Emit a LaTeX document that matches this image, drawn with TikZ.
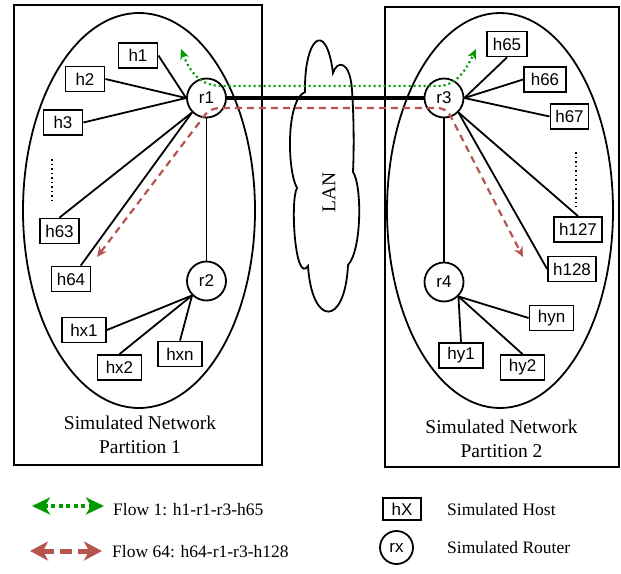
\documentclass[tikz,border=0pt]{standalone}
\usepackage{fontspec}
\setmainfont{Liberation Serif}
\setsansfont{Liberation Sans}
\usetikzlibrary{arrows.meta}
\definecolor{flowgreen}{RGB}{0,153,0}
\definecolor{flowred}{RGB}{184,84,80}
\tikzset{
  hostbox/.style={draw, line width=1.8pt, fill=white, minimum width=39pt, minimum height=25pt, inner sep=0pt, font=\sffamily\fontsize{17}{20}\selectfont},
  hostwide/.style={hostbox, minimum width=44pt},
  hostwider/.style={hostbox, minimum width=48pt},
  routernode/.style={draw, circle, line width=1.8pt, fill=white, minimum size=39pt, inner sep=0pt, font=\sffamily\fontsize{17}{20}\selectfont},
  linkline/.style={line width=1.8pt},
  trunkline/.style={line width=3.8pt},
  framebox/.style={line width=1.8pt},
  cloudline/.style={line width=1.8pt, fill=white},
  dotsline/.style={line width=1.8pt, dash pattern=on 1.5pt off 3pt},
  greenflow/.style={color=flowgreen, line width=2.2pt, dash pattern=on 2pt off 3pt, {Stealth[length=10pt,width=9pt,inset=3pt]}-{Stealth[length=10pt,width=9pt,inset=3pt]}},
  redflow/.style={color=flowred, line width=2.2pt, dash pattern=on 7pt off 5pt, {Stealth[length=10pt,width=9pt,inset=3pt]}-{Stealth[length=10pt,width=9pt,inset=3pt]}},
  legendgreen/.style={color=flowgreen, line width=4pt, dash pattern=on 4pt off 3.5pt, {Stealth[length=18pt,width=17pt,inset=5pt]}-{Stealth[length=18pt,width=17pt,inset=5pt]}},
  legendred/.style={color=flowred, line width=5pt, dash pattern=on 12pt off 6pt, {Stealth[length=18pt,width=19pt,inset=5pt]}-{Stealth[length=18pt,width=19pt,inset=5pt]}},
  captiontext/.style={font=\fontsize{19.5}{24}\selectfont, align=center, inner sep=0pt},
  legendtext/.style={font=\fontsize{17.5}{21}\selectfont, anchor=west, inner sep=0pt},
}
\begin{document}
\begin{tikzpicture}[x=1pt,y=-1pt]
\useasboundingbox (0,0) rectangle (621,573);
% partition frames
\draw[framebox] (14,5) rectangle (262,465);
\draw[framebox] (385,7) rectangle (619,467);
% ellipses
\draw[framebox] (139,210.5) ellipse [x radius=116pt, y radius=197.5pt];
\draw[framebox] (500,210.5) ellipse [x radius=113pt, y radius=197.5pt];
% LAN cloud
\draw[cloudline] (305,92) .. controls (304,38) and (326,18) .. (333,73)
  .. controls (337,60) and (350,60) .. (352,90)
  .. controls (354,120) and (354,150) .. (353,172)
  .. controls (362,185) and (362,250) .. (348,265)
  .. controls (345,327) and (312,327) .. (308,266)
  .. controls (295,285) and (290,200) .. (297,188)
  .. controls (287,170) and (286,100) .. cycle;
\node[rotate=90, font=\fontsize{19.5}{24}\selectfont, inner sep=0pt] (lan) at (329,192) {LAN};
% nodes partition 1
\node[routernode] (r1) at (206.5,98) {r1};
\node[routernode] (r2) at (206.5,281) {r2};
\node[hostbox] (h1) at (138,55.5) {h1};
\node[hostbox] (h2) at (85,79) {h2};
\node[hostbox] (h3) at (63,122.5) {h3};
\node[hostbox] (h63) at (59.5,231) {h63};
\node[hostbox] (h64) at (71,279) {h64};
\node[hostwide] (hx1) at (84,330) {hx1};
\node[hostwide] (hx2) at (119.5,367.5) {hx2};
\node[hostwide] (hxn) at (180,354) {hxn};
% nodes partition 2
\node[routernode] (r3) at (444,98) {r3};
\node[routernode] (r4) at (444,282) {r4};
\node[hostbox, minimum width=40pt] (h65) at (507,44) {h65};
\node[hostbox, minimum width=42pt] (h66) at (545,79.5) {h66};
\node[hostbox, minimum width=38pt] (h67) at (569.5,116.5) {h67};
\node[hostwider] (h127) at (578,229.5) {h127};
\node[hostwider] (h128) at (572,269) {h128};
\node[hostwide] (hyn) at (551.5,318) {hyn};
\node[hostwide] (hy1) at (461,355.5) {hy1};
\node[hostwide] (hy2) at (522.5,367.5) {hy2};
% dots
\coordinate (dl1) at (52,159); \coordinate (dl2) at (52,203);
\coordinate (dr1) at (576,152); \coordinate (dr2) at (576,207);
\draw[dotsline] (dl1) -- (dl2);
\draw[dotsline] (dr1) -- (dr2);
% links
\draw[linkline] (h1.east) -- (r1.west);
\draw[linkline] (h2.east) -- (r1.west);
\draw[linkline] (h3.east) -- (r1.west);
\draw[linkline] (h63.north) -- (r1.south west);
\draw[linkline] (h64) -- (r1.south west);
\draw[linkline] (r1) -- (r2);
\draw[linkline] (r2.south west) -- (hx1.east);
\draw[linkline] (r2.south west) -- (hx2.north);
\draw[linkline] (r2.south west) -- (hxn.north);
\draw[linkline] (r3.east) -- (h65.south);
\draw[linkline] (r3.east) -- (h66.west);
\draw[linkline] (r3.east) -- (h67.west);
\draw[linkline] (r3.south east) -- (h127.north);
\draw[linkline] (r3.south east) -- (h128.west);
\draw[linkline] (r3) -- (r4);
\draw[linkline] (r4.south east) -- (hyn.west);
\draw[linkline] (r4.south east) -- (hy1.north);
\draw[linkline] (r4.south east) -- (hy2.north);
\draw[trunkline] (r1.east) -- (r3.west);
% flows
\coordinate (g1) at (181,49); \coordinate (g2) at (476,49);
\draw[greenflow] (g1) .. controls (190,72) and (200,86) .. (222,86) -- (438,86) .. controls (456,86) and (466,70) .. (g2);
\coordinate (rd1) at (97,257); \coordinate (rd2) at (523,257);
\draw[redflow] (rd1) -- (202,119) .. controls (207,111) and (212,108) .. (222,108) -- (436,108) .. controls (444,108) and (448,111) .. (451,117) -- (rd2);
% captions
\node[captiontext] (cap1) at (140,435) {Simulated Network\\Partition 1};
\node[captiontext] (cap2) at (501.5,438.5) {Simulated Network\\Partition 2};
% legend
\coordinate (lg1) at (32,506); \coordinate (lg2) at (104,506);
\draw[legendgreen] (lg1) -- (lg2);
\coordinate (lr1) at (30,551); \coordinate (lr2) at (102,551);
\draw[legendred] (lr1) -- (lr2);
\node[legendtext] (lt1) at (113,510) {Flow 1: h1-r1-r3-h65};
\node[legendtext] (lt2) at (112,552) {Flow 64: h64-r1-r3-h128};
\node[hostbox, minimum width=38pt, minimum height=22pt] (lh) at (402,509) {hX};
\node[routernode, minimum width=33pt, minimum height=32pt, ellipse/.try] (lr) at (396.5,547.5) {rx};
\node[legendtext] (lht) at (447,510) {Simulated Host};
\node[legendtext] (lrt) at (447,548) {Simulated Router};
\end{tikzpicture}
\end{document}
